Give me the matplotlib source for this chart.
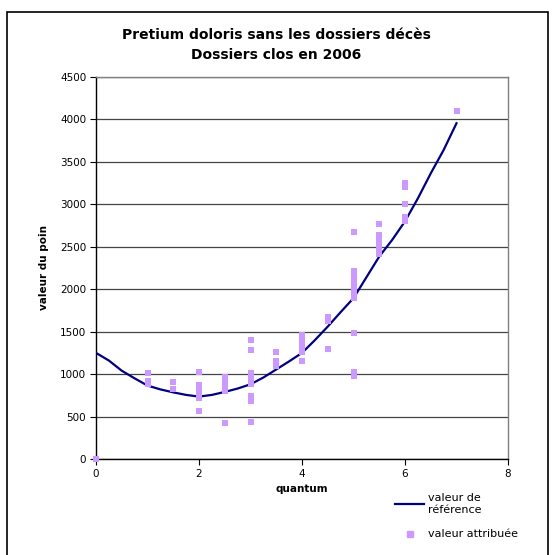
import matplotlib.pyplot as plt
from matplotlib.patches import Rectangle
from matplotlib.lines import Line2D

# reference curve (valeur de référence)
ref_quantum = [0, 0.25, 0.5, 0.75, 1, 1.25, 1.5, 1.75, 2, 2.25, 2.5, 2.75, 3, 3.25, 3.5,
               3.75, 4, 4.25, 4.5, 4.75, 5, 5.25, 5.5, 5.75, 6, 6.25, 6.5, 6.75, 7]
ref_valeur = [1250, 1160, 1040, 950, 865, 820, 785, 755, 735, 755, 790, 830, 880, 960, 1055,
              1150, 1250, 1400, 1560, 1730, 1895, 2140, 2385, 2580, 2800, 3070, 3365, 3640, 3955]

# awarded values per quantum (valeur attribuée)
attr_quantum = ([0] + [1] * 3 + [1.5] * 2 + [2] * 7 + [2.5] * 6 + [3] * 8 + [3.5] * 3
                + [4] * 6 + [4.5] * 3 + [5] * 10 + [5.5] * 6 + [6] * 5 + [7])
attr_valeur = [0,
               1010, 920, 880,
               910, 820,
               1030, 870, 830, 790, 750, 720, 560,
               970, 930, 880, 830, 800, 420,
               1400, 1280, 1010, 940, 880, 740, 680, 440,
               1260, 1150, 1100,
               1460, 1400, 1340, 1290, 1260, 1150,
               1670, 1630, 1300,
               2670, 2210, 2150, 2080, 2020, 1960, 1900, 1480, 1030, 980,
               2770, 2640, 2580, 2530, 2470, 2410,
               3250, 3200, 3000, 2850, 2800,
               4100]

title = "Pretium doloris sans les dossiers décès\nDossiers clos en 2006"
line_color = "#000080"
point_color = "#CC99FF"

fig = plt.figure(figsize=(5.52, 5.55), dpi=100)
fig.patch.set_facecolor("white")

# outer chart border
fig.patches.append(Rectangle((7 / 552, -0.05), 541 / 552, 1.05 - 12 / 555,
                             transform=fig.transFigure, fill=False,
                             edgecolor="black", linewidth=1.2))

ax = fig.add_axes([96 / 552, 1 - 459 / 555, 412 / 552, 382 / 555])
ax.plot(ref_quantum, ref_valeur, color=line_color, linewidth=1.6, zorder=3)
ax.scatter(attr_quantum, attr_valeur, marker="s", s=15, color=point_color,
           linewidths=0, zorder=4, clip_on=False)

ax.set_xlim(0, 8)
ax.set_ylim(0, 4500)
ax.set_xticks([0, 2, 4, 6, 8])
ax.set_yticks(range(0, 4501, 500))
ax.yaxis.grid(True, color="#444444", linewidth=0.9)
ax.set_axisbelow(True)
ax.tick_params(labelsize=7.5, length=4, width=0.8, direction="out", pad=3)

for side in ["top", "right"]:
    ax.spines[side].set_color("#808080")
    ax.spines[side].set_linewidth(1)
for side in ["left", "bottom"]:
    ax.spines[side].set_color("black")
    ax.spines[side].set_linewidth(1)

ax.set_xlabel("quantum", fontsize=7.5, fontweight="bold", labelpad=4)
ax.set_ylabel("valeur du poin", fontsize=7.5, fontweight="bold", labelpad=8)
fig.text(0.5, 1 - 45 / 555, title, ha="center", va="center", fontsize=10,
         fontweight="bold", linespacing=1.55)

handles = [Line2D([], [], color=line_color, linewidth=1.6),
           Line2D([], [], color=point_color, marker="s", markersize=3.8,
                  linestyle="none")]
fig.legend(handles, ["valeur de\nréférence", "valeur attribuée"],
           loc="upper left", bbox_to_anchor=(391 / 552, 1 - 489 / 555),
           frameon=False, fontsize=8, handlelength=2.6, handletextpad=0.3,
           labelspacing=1.3, borderaxespad=0)

fig.savefig("out.png", dpi=100)
